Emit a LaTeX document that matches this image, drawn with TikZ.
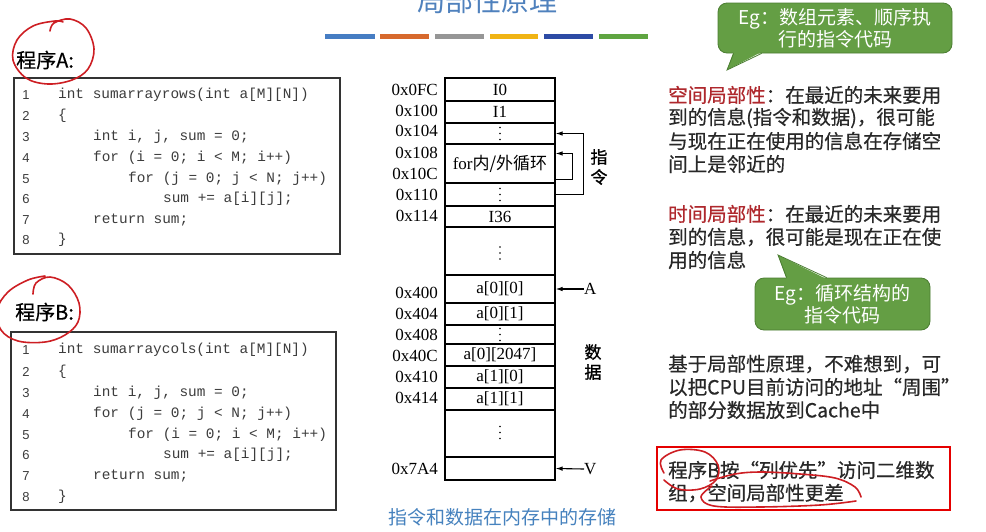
\documentclass[tikz,border=0pt]{standalone}
\usepackage{fontspec}
\setmainfont{Noto Sans CJK SC}
\newfontfamily\cjk{Noto Sans CJK SC}
\newfontfamily\cjkm{Noto Sans CJK SC}[FakeBold=0.5]
\newfontfamily\cjkb{Noto Sans CJK SC}[FakeBold=1.2]
\newfontfamily\codefont{Liberation Mono}
\newfontfamily\timesf{Liberation Serif}
\newfontfamily\arialf{Liberation Sans}
\usetikzlibrary{arrows.meta,calc}
\definecolor{titleblue}{RGB}{79,129,189}
\definecolor{barblue}{RGB}{70,125,195}
\definecolor{barorange}{RGB}{215,105,45}
\definecolor{bargray}{RGB}{150,150,150}
\definecolor{baryellow}{RGB}{240,180,20}
\definecolor{bardblue}{RGB}{45,75,165}
\definecolor{bargreen}{RGB}{95,165,65}
\definecolor{bubblegreen}{RGB}{100,158,68}
\definecolor{bubbleedge}{RGB}{75,125,50}
\definecolor{redtxt}{RGB}{175,40,45}
\definecolor{bodytxt}{RGB}{40,40,40}
\definecolor{codegray}{RGB}{60,60,60}
\definecolor{capblue}{RGB}{70,130,190}
\definecolor{handred}{RGB}{205,30,35}
\newcommand\memcell[4]{\node[cell,minimum height={(#3-#2)*1pt}] (#1) at (500,{(#2+#3)/2}) {#4};}
\newcommand\vdotsat[1]{\foreach \d in {-6,0,6} \fill ($(#1)+(0,\d)$) circle (0.9pt);}
\begin{document}
\begin{tikzpicture}[x=1pt,y=-1pt,
  codeln/.style={anchor=west,inner sep=0,text=codegray,font=\codefont\fontsize{14.4}{16}\selectfont},
  lnum/.style={inner sep=0,text=codegray,font=\arialf\fontsize{13}{15}\selectfont},
  codebox/.style={draw=black!80,line width=1.2pt,inner sep=0},
  proglabel/.style={anchor=west,inner sep=0,text=black,font=\cjkm\fontsize{20}{22}\selectfont},
  cell/.style={draw=black,line width=1.1pt,minimum width=110pt,inner sep=0,font=\timesf\fontsize{17}{17}\selectfont},
  addr/.style={anchor=east,inner sep=0,font=\timesf\fontsize{17}{17}\selectfont},
  side/.style={inner sep=0,font=\cjkb\fontsize{17}{20}\selectfont,align=center},
  arr/.style={-{Latex[length=7pt,width=4.5pt]},line width=1.1pt},
  body/.style={anchor=west,inner sep=0,text=bodytxt,font=\cjkm\fontsize{19.5}{22}\selectfont},
  bubble/.style={fill=bubblegreen,draw=bubbleedge,line width=0.8pt,rounded corners=9pt,text=white,align=center,inner sep=0,font=\cjk\fontsize{19}{22}\selectfont},
  hand/.style={draw=handred,line width=1.6pt,line cap=round,line join=round}]
\fill[white] (0,0) rectangle (986,531);
\useasboundingbox (0,0) rectangle (986,531);
% title and bars
\node[text=titleblue,font=\cjk\fontsize{28}{30}\selectfont,inner sep=0] (title) at (487,1) {局部性原理};
\fill[barblue]   (325,34) rectangle (375,38.5);
\fill[barorange] (380,34) rectangle (429,38.5);
\fill[bargray]   (435,34) rectangle (484,38.5);
\fill[baryellow] (490,34) rectangle (538,38.5);
\fill[bardblue]  (544,34) rectangle (593,38.5);
\fill[bargreen]  (599,34) rectangle (648,38.5);
% program A
\node[proglabel] (labA) at (16,60) {程序A:};
\node[codebox,minimum width=326pt,minimum height=176pt] (boxA) at (177,166) {};
\foreach \n/\yy in {1/95,2/116,3/137,4/158,5/179,6/199,7/220,8/240} \node[lnum] (la\n) at (26,\yy) {\n};
\node[codeln] (ca1) at (58,95) {int sumarrayrows(int a[M][N])};
\node[codeln] (ca2) at (58,116) {\{};
\node[codeln] (ca3) at (93,137) {int i, j, sum = 0;};
\node[codeln] (ca4) at (93,158) {for (i = 0; i < M; i++)};
\node[codeln] (ca5) at (128,179) {for (j = 0; j < N; j++)};
\node[codeln] (ca6) at (163,199) {sum += a[i][j];};
\node[codeln] (ca7) at (93,220) {return sum;};
\node[codeln] (ca8) at (58,240) {\}};
% program B
\node[proglabel] (labB) at (15,312) {程序B:};
\node[codebox,minimum width=325pt,minimum height=178pt] (boxB) at (173.5,421) {};
\foreach \n/\yy in {1/350,2/372,3/393,4/414,5/435,6/455,7/476,8/497} \node[lnum] (lb\n) at (26,\yy) {\n};
\node[codeln] (cb1) at (58,350) {int sumarraycols(int a[M][N])};
\node[codeln] (cb2) at (58,372) {\{};
\node[codeln] (cb3) at (93,393) {int i, j, sum = 0;};
\node[codeln] (cb4) at (93,414) {for (j = 0; j < N; j++)};
\node[codeln] (cb5) at (128,435) {for (i = 0; i < M; i++)};
\node[codeln] (cb6) at (163,455) {sum += a[i][j];};
\node[codeln] (cb7) at (93,476) {return sum;};
\node[codeln] (cb8) at (58,497) {\}};
% hand circles
\draw[hand] plot[smooth,tension=0.6] coordinates {(50,31) (54,23) (70,19) (86,28) (94,49) (88,69) (72,80) (48,84) (26,78) (13,60) (17,40) (33,26) (55,21) (63,22)};
\draw[hand] plot[smooth,tension=0.6] coordinates {(33,294) (36,283) (50,277) (68,285) (79,303) (78,322) (65,335) (45,342) (18,341) (1,330) (-3,310) (8,292) (28,280) (45,276)};
% memory
\memcell{r1}{78}{101}{I0}
\memcell{r2}{101}{123}{I1}
\memcell{r3}{123}{144}{}
\memcell{r4}{144}{183}{for{\cjk 内/外循环}}
\memcell{r5}{183}{206}{}
\memcell{r6}{206}{227}{I36}
\memcell{r7}{227}{275}{}
\memcell{r8}{275}{303}{a[0][0]}
\memcell{r9}{303}{325}{a[0][1]}
\memcell{r10}{325}{344}{}
\memcell{r11}{344}{366}{a[0][2047]}
\memcell{r12}{366}{388}{a[1][0]}
\memcell{r13}{388}{410}{a[1][1]}
\memcell{r14}{410}{457}{}
\memcell{r15}{457}{480}{}
\vdotsat{r3.center}
\vdotsat{r5.center}
\vdotsat{$(r7.center)+(0,2)$}
\vdotsat{r10.center}
\vdotsat{$(r14.center)+(0,-1)$}
\foreach \nm/\t/\yy in {a0/0x0FC/90,a1/0x100/111,a2/0x104/131,a3/0x108/153,a4/0x10C/174,a5/0x110/195,a6/0x114/216,a7/0x400/293,a8/0x404/314,a9/0x408/335,a10/0x40C/356,a11/0x410/377,a12/0x414/398,a13/0x7A4/469}
  \node[addr] (\nm) at (438,\yy) {\t};
\draw[arr] (r5.east) -- ++(28,0) |- (r3.east);
\draw[arr] ($(r4.south east)+(0,-4)$) -- ++(17,0) |- ($(r4.north east)+(0,10)$);
\node[side] (zhiling) at (599,167) {指\\令};
\node[side] (shuju) at (593,362) {数\\据};
\node[inner sep=0,font=\timesf\fontsize{17}{17}\selectfont,anchor=west] (lA) at (584,289) {A};
\node[inner sep=0,font=\timesf\fontsize{17}{17}\selectfont,anchor=west] (lV) at (584,469) {V};
\draw[arr] (lA.west) -- (r8.east);
\draw[arr] (lV.west) -- (r15.east);
\node[text=capblue,font=\cjk\fontsize{19}{21}\selectfont,inner sep=0] (cap) at (502,517) {指令和数据在内存中的存储};
% bubble 1
\node[bubble,minimum width=234pt,minimum height=50pt] (b1) at (835,28) {Eg：数组元素、顺序执\\行的指令代码};
\coordinate (t1) at (727,70);
\fill[bubblegreen] ($(b1.south west)+(16,-1.5)$) -- (t1) -- ($(b1.south west)+(44,-1.5)$) -- cycle;
\draw[bubbleedge,line width=0.8pt] ($(b1.south west)+(16,0)$) -- (t1) -- ($(b1.south west)+(44,0)$);
% spatial
\node[body] (s1) at (668,95) {{\color{redtxt}空间局部性}：在最近的未来要用};
\node[body] (s2) at (668,118) {到的信息(指令和数据)，很可能};
\node[body] (s3) at (668,141) {与现在正在使用的信息在存储空};
\node[body] (s4) at (668,164) {间上是邻近的};
% temporal
\node[body] (t1a) at (668,214) {{\color{redtxt}时间局部性}：在最近的未来要用};
\node[body] (t2a) at (668,237) {到的信息，很可能是现在正在使};
\node[body] (t3a) at (668,260) {用的信息};
% bubble 2
\node[bubble,minimum width=175pt,minimum height=52pt] (b2) at (842.5,304) {Eg：循环结构的\\指令代码};
\coordinate (t2) at (778,255);
\fill[bubblegreen] ($(b2.north west)+(32,1.5)$) -- (t2) -- ($(b2.north west)+(72,1.5)$) -- cycle;
\draw[bubbleedge,line width=0.8pt] ($(b2.north west)+(32,0)$) -- (t2) -- ($(b2.north west)+(72,0)$);
% principle
\node[body] (p1) at (668,364) {基于局部性原理，不难想到，可};
\node[body] (p2) at (668,387) {以把CPU目前访问的地址“周围”};
\node[body] (p3) at (668,410) {的部分数据放到Cache中};
% conclusion box
\node[draw=red!90!black,line width=2pt,minimum width=293pt,minimum height=63pt,inner sep=0] (concl) at (803.5,478.5) {};
\node[body] (c1) at (668,470) {程序B按“列优先”访问二维数};
\node[body] (c2) at (668,493) {组，空间局部性更差};
\draw[hand] plot[smooth,tension=0.6] coordinates {(664,473) (661,460) (680,450) (705,452) (718,465) (716,480) (700,489) (678,489) (664,480)};
\draw[hand] plot[smooth,tension=0.6] coordinates {(710,481) (735,474) (762,472) (800,474) (835,478) (855,487) (861,497)};
\draw[hand] plot[smooth,tension=0.6] coordinates {(712,486) (701,497) (714,506) (760,507) (820,505) (856,501)};
\end{tikzpicture}
\end{document}
